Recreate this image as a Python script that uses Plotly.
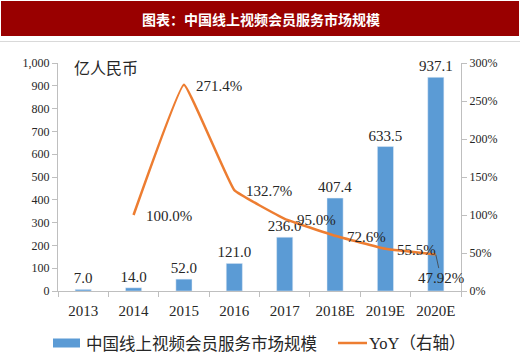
import plotly.graph_objects as go

categories = ["2013", "2014", "2015", "2016", "2017", "2018E", "2019E", "2020E"]
market_size = [7.0, 14.0, 52.0, 121.0, 236.0, 407.4, 633.5, 937.1]
yoy = [None, 100.0, 271.4, 132.7, 95.0, 72.6, 55.5, 47.92]
yoy_labels = [None, "100.0%", "271.4%", "132.7%", "95.0%", "72.6%", "55.5%", "47.92%"]
bar_name = "中国线上视频会员服务市场规模"
line_name = "YoY（右轴）"
title_text = "图表：中国线上视频会员服务市场规模"
unit_text = "亿人民币"

W, H = 520, 354
L, R, T, B = 58, 461, 63, 291

def px(X):
    return (X - L) / (R - L)

def py(Y):
    return (B - Y) / (B - T)

SERIF = "Liberation Serif, Times New Roman, Noto Sans CJK SC, serif"
CJK = "Noto Sans CJK SC, Liberation Serif, serif"
TXT = "#262626"
BLUE = "#5B9BD5"
ORANGE = "#ED7D31"
GRID = "#BFBFBF"

fig = go.Figure()
fig.add_trace(go.Bar(
    x=categories, y=market_size, name=bar_name, marker_color=BLUE,
    text=[f"{v:.1f}" for v in market_size], textposition="outside",
    textfont=dict(family=SERIF, size=15, color=TXT),
    constraintext="none", cliponaxis=False, showlegend=False,
))
fig.add_trace(go.Scatter(
    x=categories, y=yoy, name=line_name, yaxis="y2", mode="lines",
    line=dict(color=ORANGE, width=2.5, shape="spline", smoothing=0.25),
    showlegend=False, connectgaps=False,
))

annotations = []
for i, (v, lab) in enumerate(zip(yoy, yoy_labels)):
    if v is None:
        continue
    if lab == "47.92%":
        annotations.append(dict(
            x=i, y=v, xref="x", yref="y2", text=lab, showarrow=True,
            ax=5, ay=23, arrowhead=0, arrowwidth=0.8, arrowcolor="#404040",
            font=dict(family=SERIF, size=15, color=TXT),
        ))
    else:
        annotations.append(dict(
            x=i, y=v, xref="x", yref="y2", text=lab, showarrow=False,
            xanchor="left", yanchor="middle", xshift=10, yshift=-1,
            font=dict(family=SERIF, size=15, color=TXT),
        ))

# title banner text
annotations.append(dict(
    x=px(261), y=py(19), xref="paper", yref="paper", text="<b>" + title_text + "</b>",
    showarrow=False, xanchor="center", yanchor="middle",
    font=dict(family=CJK, size=14, color="white"),
))
# unit text
annotations.append(dict(
    x=px(72), y=py(67), xref="paper", yref="paper", text=unit_text,
    showarrow=False, xanchor="left", yanchor="middle",
    font=dict(family=CJK, size=16, color=TXT),
))
# manual legend texts
annotations.append(dict(
    x=px(84), y=py(343), xref="paper", yref="paper", text=bar_name,
    showarrow=False, xanchor="left", yanchor="middle",
    font=dict(family=CJK, size=16.5, color=TXT),
))
annotations.append(dict(
    x=px(367), y=py(343), xref="paper", yref="paper", text=line_name,
    showarrow=False, xanchor="left", yanchor="middle",
    font=dict(family=SERIF, size=16.5, color=TXT),
))

shapes = [
    dict(type="rect", xref="paper", yref="paper", x0=px(1), x1=px(519), y0=py(36), y1=py(1),
         fillcolor="#990000", line=dict(width=0), layer="below"),
    dict(type="line", xref="paper", yref="paper", x0=px(0), x1=px(520), y0=py(41.5), y1=py(41.5),
         line=dict(color="#D9D9D9", width=1)),
    dict(type="rect", xref="paper", yref="paper", x0=px(53), x1=px(80), y0=py(347.5), y1=py(338.5),
         fillcolor=BLUE, line=dict(width=0)),
    dict(type="line", xref="paper", yref="paper", x0=px(338), x1=px(367), y0=py(343), y1=py(343),
         line=dict(color=ORANGE, width=2.5)),
]

fig.update_layout(
    width=W, height=H,
    margin=dict(l=L, r=W - R, t=T, b=H - B, pad=0),
    paper_bgcolor="white", plot_bgcolor="white",
    bargap=0.68,
    showlegend=False,
    xaxis=dict(
        type="category", range=[-0.5, len(categories) - 0.5], autorange=False,
        showline=True, linecolor=GRID, linewidth=1,
        ticks="outside", tickson="boundaries", ticklen=5, tickcolor=GRID,
        ticklabelstandoff=6,
        tickfont=dict(family=SERIF, size=15, color=TXT), showgrid=False,
    ),
    yaxis=dict(
        range=[0, 1000], dtick=100, tickformat=",", showline=True, linecolor=GRID,
        ticks="outside", ticklen=5, tickcolor=GRID, showgrid=False, zeroline=False,
        tickfont=dict(family=SERIF, size=12, color=TXT),
    ),
    yaxis2=dict(
        range=[0, 300], dtick=50, ticksuffix="%", overlaying="y", side="right",
        showline=True, linecolor=GRID, ticks="outside", ticklen=5, tickcolor=GRID,
        showgrid=False, zeroline=False,
        tickfont=dict(family=SERIF, size=12, color=TXT),
    ),
    annotations=annotations,
    shapes=shapes,
)

fig.write_html("out.html")
